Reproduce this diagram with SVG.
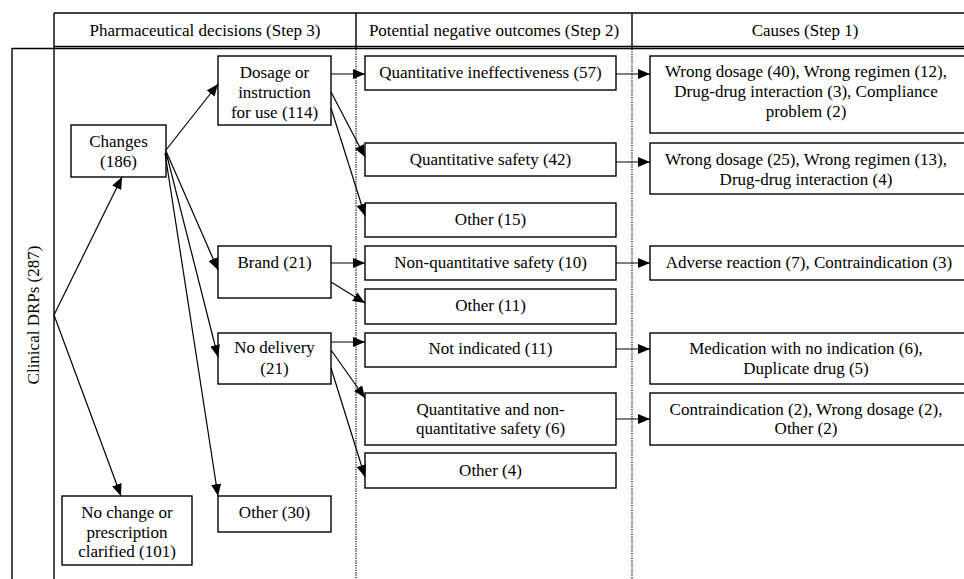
<svg xmlns="http://www.w3.org/2000/svg" width="964" height="579" viewBox="0 0 964 579" font-family="'Liberation Serif', 'Times New Roman', 'DejaVu Serif', serif">
<style>
text{font-family:'Liberation Serif','Times New Roman','DejaVu Serif',serif;font-size:17px;fill:#000;text-anchor:middle}
.box{fill:#fff;stroke:#000;stroke-width:1.4}
.frame{stroke:#000;stroke-width:1.4;fill:none}
.dot{stroke:#000;stroke-width:1.2;stroke-dasharray:1.2 1.2;fill:none}
.con line{stroke:#000;stroke-width:1.2;marker-end:url(#ah)}
</style>
<defs>
<marker id="ah" markerWidth="12" markerHeight="10" refX="12" refY="5" orient="auto" markerUnits="userSpaceOnUse">
<path d="M0,0 L12,5 L0,10 z" fill="#000"/>
</marker>
</defs>
<rect width="964" height="579" fill="#fff"/>
<g id="frame">
<line class="frame" x1="54" y1="13" x2="964" y2="13"/>
<line class="frame" x1="54" y1="46.5" x2="964" y2="46.5"/>
<line class="frame" x1="12" y1="48.5" x2="964" y2="48.5"/>
<line class="frame" x1="12" y1="48" x2="12" y2="579"/>
<line class="frame" x1="54" y1="13" x2="54" y2="579"/>
<line class="frame" x1="356" y1="13" x2="356" y2="48"/>
<line class="frame" x1="632" y1="13" x2="632" y2="48"/>
<line class="dot" x1="356" y1="49" x2="356" y2="579"/>
<line class="dot" x1="632" y1="49" x2="632" y2="579"/>
<text x="205" y="36">Pharmaceutical decisions (Step 3)</text>
<text x="494" y="36">Potential negative outcomes (Step 2)</text>
<text x="805" y="36">Causes (Step 1)</text>
<text transform="translate(39 315) rotate(-90)">Clinical DRPs (287)</text>
</g>
<g id="n-changes"><rect class="box" x="71" y="125" width="95" height="52"/><text x="118.5" y="147">Changes</text><text x="118.5" y="167">(186)</text></g>
<g id="n-dosage"><rect class="box" x="218" y="56" width="113" height="69"/><text x="274.5" y="78">Dosage or</text><text x="274.5" y="98">instruction</text><text x="274.5" y="118">for use (114)</text></g>
<g id="n-brand"><rect class="box" x="218" y="246" width="113" height="52"/><text x="274.5" y="268">Brand (21)</text></g>
<g id="n-nodelivery"><rect class="box" x="218" y="333" width="113" height="51"/><text x="274.5" y="353">No delivery</text><text x="274.5" y="374">(21)</text></g>
<g id="n-other30"><rect class="box" x="218" y="496" width="113" height="36"/><text x="274.5" y="518">Other (30)</text></g>
<g id="n-nochange"><rect class="box" x="62" y="496" width="130" height="69"/><text x="127" y="518">No change or</text><text x="127" y="538">prescription</text><text x="127" y="557">clarified (101)</text></g>
<g id="n-qineff"><rect class="box" x="365" y="56" width="251" height="34"/><text x="490.5" y="78">Quantitative ineffectiveness (57)</text></g>
<g id="n-qsafety"><rect class="box" x="365" y="143" width="251" height="33"/><text x="490.5" y="165">Quantitative safety (42)</text></g>
<g id="n-other15"><rect class="box" x="365" y="203" width="251" height="34"/><text x="490.5" y="225">Other (15)</text></g>
<g id="n-nqsafety"><rect class="box" x="365" y="246" width="251" height="34"/><text x="490.5" y="268">Non-quantitative safety (10)</text></g>
<g id="n-other11"><rect class="box" x="365" y="289" width="251" height="35"/><text x="490.5" y="311">Other (11)</text></g>
<g id="n-notind"><rect class="box" x="365" y="333" width="251" height="34"/><text x="490.5" y="354">Not indicated (11)</text></g>
<g id="n-qnq"><rect class="box" x="365" y="393" width="251" height="52"/><text x="490.5" y="415">Quantitative and non-</text><text x="490.5" y="434">quantitative safety (6)</text></g>
<g id="n-other4"><rect class="box" x="365" y="453" width="251" height="35"/><text x="490.5" y="476">Other (4)</text></g>
<g id="c-1"><rect class="box" x="650" y="56" width="316" height="77"/><text x="806" y="77">Wrong dosage (40), Wrong regimen (12),</text><text x="806" y="97">Drug-drug interaction (3), Compliance</text><text x="806" y="117">problem (2)</text></g>
<g id="c-2"><rect class="box" x="650" y="143" width="316" height="51"/><text x="806" y="165">Wrong dosage (25), Wrong regimen (13),</text><text x="806" y="185">Drug-drug interaction (4)</text></g>
<g id="c-3"><rect class="box" x="650" y="246" width="316" height="34"/><text x="809" y="268">Adverse reaction (7), Contraindication (3)</text></g>
<g id="c-4"><rect class="box" x="650" y="333" width="316" height="51"/><text x="806" y="354">Medication with no indication (6),</text><text x="806" y="374">Duplicate drug (5)</text></g>
<g id="c-5"><rect class="box" x="650" y="393" width="316" height="52"/><text x="806" y="415">Contraindication (2), Wrong dosage (2),</text><text x="806" y="434">Other (2)</text></g>
<g id="connectors" class="con">
<line x1="54" y1="315" x2="122" y2="177"/>
<line x1="54" y1="315" x2="121" y2="496"/>
<line x1="166" y1="150" x2="218" y2="84"/>
<line x1="166" y1="151" x2="218" y2="270"/>
<line x1="166" y1="152" x2="218" y2="357"/>
<line x1="165" y1="153" x2="218" y2="496"/>
<line x1="331" y1="74" x2="365" y2="74"/>
<line x1="331" y1="92" x2="365" y2="157"/>
<line x1="331" y1="108" x2="365" y2="216"/>
<line x1="331" y1="263" x2="365" y2="263"/>
<line x1="331" y1="282" x2="365" y2="303"/>
<line x1="331" y1="342" x2="365" y2="342"/>
<line x1="331" y1="350" x2="365" y2="398"/>
<line x1="331" y1="368" x2="365" y2="477"/>
<line x1="616" y1="74" x2="650" y2="74"/>
<line x1="616" y1="162" x2="650" y2="162"/>
<line x1="616" y1="263" x2="650" y2="263"/>
<line x1="616" y1="349" x2="650" y2="349"/>
<line x1="616" y1="419" x2="650" y2="419"/>
</g>
</svg>
